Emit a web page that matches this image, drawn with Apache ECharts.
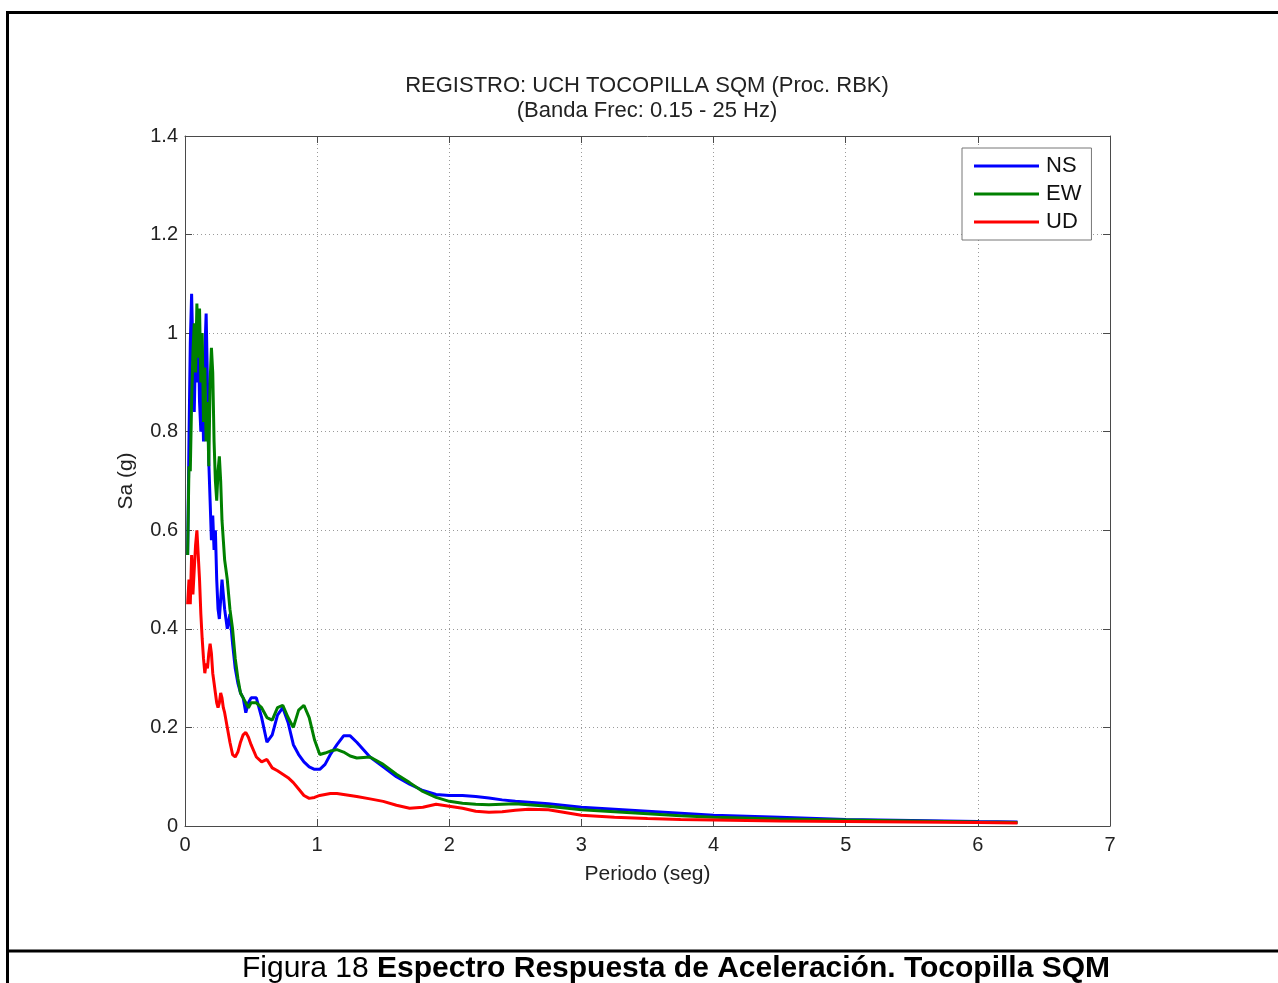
<!DOCTYPE html>
<html>
<head>
<meta charset="utf-8">
<script src="https://cdn.jsdelivr.net/npm/echarts@6/dist/echarts.min.js"></script>
<style>
  html, body { margin: 0; padding: 0; background: #fff; }
  #chart { width: 1278px; height: 983px; }
</style>
</head>
<body>
<div id="chart"></div>
<script>
// Periods (s) shared by the three components
var periods = [0.02,0.03,0.04,0.05,0.06,0.07,0.08,0.09,0.10,0.11,0.12,0.13,0.14,0.15,0.16,0.17,0.18,0.19,0.20,0.21,0.22,0.23,0.24,0.25,0.26,0.27,0.28,0.29,0.30,
  0.32,0.34,0.36,0.38,0.40,0.42,0.44,0.46,0.48,0.50,
  0.54,0.58,0.62,0.66,0.70,0.74,0.78,0.82,0.86,0.90,0.94,0.98,1.02,
  1.06,1.10,1.15,1.20,1.25,1.30,
  1.40,1.50,1.60,1.70,1.80,1.90,2.00,2.10,2.20,2.30,2.40,2.50,2.60,
  2.75,3.00,3.25,3.50,3.75,4.00,
  4.50,5.00,5.50,6.00,6.30];

// Spectral acceleration Sa (g), component NS
var saNS = [0.55,0.78,0.98,1.08,0.96,0.84,0.97,0.90,1.02,0.86,0.80,0.92,0.78,0.96,1.04,0.90,0.74,0.66,0.58,0.63,0.56,0.60,0.50,0.44,0.42,0.46,0.50,0.47,0.44,
  0.40,0.43,0.37,0.32,0.29,0.27,0.26,0.23,0.25,0.26,
  0.26,0.22,0.17,0.185,0.225,0.24,0.21,0.165,0.145,0.13,0.12,0.115,0.115,
  0.125,0.145,0.165,0.183,0.183,0.17,
  0.14,0.12,0.10,0.085,0.072,0.064,0.062,0.062,0.060,0.057,0.053,0.050,0.048,
  0.045,0.038,0.034,0.030,0.026,0.022,
  0.018,0.013,0.011,0.009,0.008];

// Component EW
var saEW = [0.55,0.73,0.72,0.86,0.96,1.02,0.92,1.06,0.95,1.05,0.90,1.00,0.82,0.93,0.78,0.86,0.73,0.90,0.97,0.92,0.78,0.70,0.66,0.72,0.75,0.70,0.62,0.58,0.54,
  0.50,0.44,0.40,0.34,0.30,0.27,0.26,0.25,0.24,0.25,
  0.25,0.24,0.22,0.215,0.24,0.245,0.22,0.20,0.235,0.245,0.22,0.175,0.145,
  0.148,0.152,0.155,0.15,0.142,0.138,
  0.140,0.125,0.105,0.088,0.070,0.058,0.050,0.046,0.044,0.043,0.044,0.045,0.043,
  0.040,0.033,0.029,0.025,0.021,0.018,
  0.014,0.012,0.010,0.008,0.007];

// Component UD
var saUD = [0.45,0.50,0.45,0.55,0.47,0.52,0.57,0.60,0.55,0.50,0.43,0.38,0.34,0.31,0.33,0.32,0.35,0.37,0.35,0.31,0.29,0.27,0.25,0.24,0.25,0.27,0.26,0.24,0.23,
  0.20,0.17,0.145,0.14,0.15,0.17,0.185,0.19,0.18,0.165,
  0.14,0.13,0.135,0.118,0.112,0.105,0.098,0.088,0.075,0.062,0.056,0.058,0.062,
  0.064,0.066,0.066,0.064,0.062,0.060,
  0.055,0.050,0.042,0.036,0.038,0.044,0.040,0.036,0.030,0.028,0.029,0.032,0.034,
  0.033,0.022,0.018,0.015,0.013,0.012,
  0.010,0.009,0.008,0.007,0.006];

var seriesNames = ['NS', 'EW', 'UD'];
var seriesColors = ['#0000ff', '#008000', '#ff0000'];
var seriesValues = [saNS, saEW, saUD];

var titleLines = ['REGISTRO: UCH TOCOPILLA SQM (Proc. RBK)', '(Banda Frec: 0.15 - 25 Hz)'];
var xTitle = 'Periodo (seg)';
var yTitle = 'Sa (g)';

function pairs(vals) {
  return periods.map(function (t, i) { return [t, vals[i]]; });
}

var FONT = '"Liberation Sans", Arial, sans-serif';
var chart = echarts.init(document.getElementById('chart'), null, { renderer: 'canvas' });

var axisLineStyle = { color: '#4a4a4a', width: 1 };
var gridLineStyle = { color: '#9a9a9a', type: [1, 3], width: 1 };

chart.setOption({
  backgroundColor: '#fff',
  animation: false,
  textStyle: { fontFamily: FONT },
  grid: { left: 185, top: 136, width: 925, height: 690, containLabel: false },
  legend: {
    data: seriesNames,
    orient: 'vertical',
    left: 962,
    top: 148,
    padding: [7, 10, 7, 12],
    itemWidth: 65,
    itemHeight: 3,
    itemGap: 6,
    icon: 'rect',
    borderColor: '#777',
    borderWidth: 1,
    backgroundColor: '#fff',
    textStyle: { fontSize: 22, lineHeight: 22, color: '#111', fontFamily: FONT, padding: [0, 0, 0, 2] }
  },
  xAxis: [{
    type: 'value', min: 0, max: 7, interval: 1,
    name: xTitle, nameLocation: 'middle', nameGap: 38,
    nameTextStyle: { fontSize: 21, color: '#222', fontFamily: FONT },
    axisLine: { show: true, onZero: false, lineStyle: axisLineStyle },
    axisTick: { show: true, inside: true, length: 7, lineStyle: axisLineStyle },
    axisLabel: { fontSize: 20, color: '#222', margin: 9, fontFamily: FONT },
    splitLine: { show: true, lineStyle: gridLineStyle }
  }, {
    type: 'value', min: 0, max: 7, interval: 1, position: 'top',
    axisLine: { show: true, onZero: false, lineStyle: axisLineStyle },
    axisTick: { show: true, inside: true, length: 7, lineStyle: axisLineStyle },
    axisLabel: { show: false },
    splitLine: { show: false }
  }],
  yAxis: [{
    type: 'value', min: 0, max: 1.4, interval: 0.2,
    name: yTitle, nameLocation: 'middle', nameGap: 48, nameRotate: 90,
    nameTextStyle: { fontSize: 21, color: '#222', fontFamily: FONT },
    axisLine: { show: true, onZero: false, lineStyle: axisLineStyle },
    axisTick: { show: true, inside: true, length: 7, lineStyle: axisLineStyle },
    axisLabel: { fontSize: 20, color: '#222', margin: 7, fontFamily: FONT },
    splitLine: { show: true, lineStyle: gridLineStyle }
  }, {
    type: 'value', min: 0, max: 1.4, interval: 0.2, position: 'right',
    axisLine: { show: true, onZero: false, lineStyle: axisLineStyle },
    axisTick: { show: true, inside: true, length: 7, lineStyle: axisLineStyle },
    axisLabel: { show: false },
    splitLine: { show: false }
  }],
  series: seriesNames.map(function (name, k) {
    return {
      name: name,
      type: 'line',
      xAxisIndex: 0,
      yAxisIndex: 0,
      data: pairs(seriesValues[k]),
      showSymbol: false,
      symbol: 'none',
      lineStyle: { color: seriesColors[k], width: 3 },
      itemStyle: { color: seriesColors[k] },
      z: 3 + k
    };
  }),
  graphic: [
    // two-line plot title
    { type: 'text', x: 647, y: 86, silent: true,
      style: { text: titleLines[0], fill: '#222', font: '22px ' + FONT, textAlign: 'center', textVerticalAlign: 'middle' } },
    { type: 'text', x: 647, y: 111, silent: true,
      style: { text: titleLines[1], fill: '#222', font: '22px ' + FONT, textAlign: 'center', textVerticalAlign: 'middle' } },
    // page frame
    { type: 'line', silent: true, shape: { x1: 7.5, y1: 11, x2: 7.5, y2: 983 }, style: { stroke: '#000', lineWidth: 3 } },
    { type: 'line', silent: true, shape: { x1: 6, y1: 12.5, x2: 1278, y2: 12.5 }, style: { stroke: '#000', lineWidth: 3 } },
    { type: 'line', silent: true, shape: { x1: 6, y1: 951, x2: 1278, y2: 951 }, style: { stroke: '#000', lineWidth: 3 } },
    // figure caption
    { type: 'text', x: 676, y: 969, silent: true,
      style: {
        text: '{n|Figura 18 }{b|Espectro Respuesta de Aceleración. Tocopilla SQM}',
        textAlign: 'center', textVerticalAlign: 'middle',
        rich: {
          n: { fontSize: 30, fontFamily: FONT, color: '#000' },
          b: { fontSize: 30, fontFamily: FONT, fontWeight: 'bold', color: '#000' }
        }
      } }
  ]
});
</script>
</body>
</html>
